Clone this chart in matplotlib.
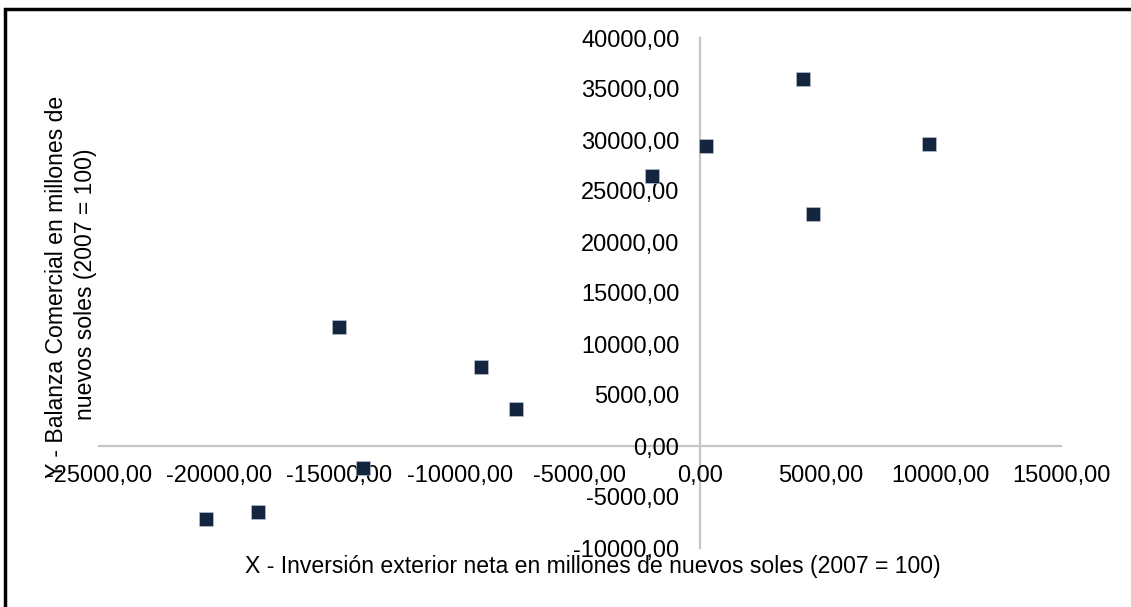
import matplotlib.pyplot as plt
from matplotlib.patches import Rectangle
from matplotlib.ticker import FuncFormatter

# Inversión exterior neta (X) y Balanza Comercial (Y), millones de nuevos soles
inversion = [-20566, -18379, -15023, -14037, -9131, -7676, -2021, 237, 4258, 4686, 9522]
balanza = [-7202, -6458, 11683, -2114, 7701, 3660, 26458, 29423, 35978, 22740, 29618]

x_ticks = [-25000, -20000, -15000, -10000, -5000, 0, 5000, 10000, 15000]
y_ticks = [-10000, -5000, 0, 5000, 10000, 15000, 20000, 25000, 30000, 35000, 40000]

plt.rcParams['font.family'] = ['Liberation Sans', 'DejaVu Sans']

W, H = 1131, 607
fig = plt.figure(figsize=(W / 100, H / 100), dpi=100)
ax = fig.add_axes([99 / W, (H - 548) / H, 962 / W, 510 / H])

ax.scatter(inversion, balanza, marker='s', s=95, color='#13253f',
           edgecolors='#c8ccd4', linewidths=0.4, zorder=3, clip_on=False)

ax.set_xlim(-25000, 15000)
ax.set_ylim(-10000, 40000)
ax.set_xticks(x_ticks)
ax.set_yticks(y_ticks)

fmt = FuncFormatter(lambda v, pos: f'{v:.2f}'.replace('.', ','))
ax.xaxis.set_major_formatter(fmt)
ax.yaxis.set_major_formatter(fmt)

for side in ['top', 'right']:
    ax.spines[side].set_visible(False)
ax.spines['left'].set_position(('data', 0))
ax.spines['bottom'].set_position(('data', 0))
for side in ['left', 'bottom']:
    ax.spines[side].set_color('#c6c6c6')
    ax.spines[side].set_linewidth(1.6)
    ax.spines[side].set_zorder(1)

ax.tick_params(axis='x', length=0, pad=14, labelsize=17)
ax.tick_params(axis='y', length=0, pad=15, labelsize=17)

fig.text(593 / W, 1 - 567 / H,
         'X - Inversión exterior neta en millones de nuevos soles (2007 = 100)',
         ha='center', va='center', fontsize=16.6)
fig.text(71 / W, 1 - 284 / H,
         'Y - Balanza Comercial en millones de \nnuevos soles (2007 = 100)',
         ha='center', va='center', rotation=90, multialignment='center',
         fontsize=16.6, linespacing=1.3)

# marco negro (solo se ven los bordes superior e izquierdo)
fig.patches.append(Rectangle((5 / W, -0.1), 1.2, 1 - 9 / H + 0.1,
                             transform=fig.transFigure, fill=False,
                             edgecolor='black', linewidth=2.5))

fig.savefig('out.png', dpi=100)
